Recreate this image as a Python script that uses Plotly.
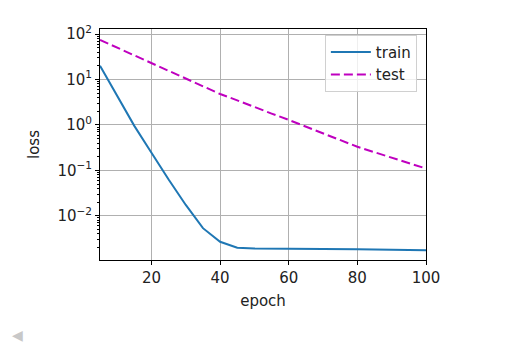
import plotly.graph_objects as go

epochs = [5, 10, 15, 20, 25, 30, 35, 40, 45, 50, 55, 60, 65, 70, 75, 80, 85, 90, 95, 100]
train_loss = [20.0, 4.37, 0.955, 0.245, 0.063, 0.0174, 0.00537, 0.00269, 0.00200, 0.00191,
              0.00191, 0.00188, 0.00191, 0.00188, 0.00186, 0.00184, 0.00182, 0.00180, 0.00178, 0.00176]
test_loss = [74.1, 50.1, 33.9, 22.9, 15.5, 10.5, 7.08, 4.79, 3.47, 2.45,
             1.78, 1.29, 0.912, 0.646, 0.468, 0.331, 0.251, 0.191, 0.145, 0.110]

x_ticks = [20, 40, 60, 80, 100]
y_ticks = [1e-2, 1e-1, 1e0, 1e1, 1e2]
y_ticktext = ["10<sup>\u22122</sup>", "10<sup>\u22121</sup>", "10<sup>0</sup>", "10<sup>1</sup>", "10<sup>2</sup>"]
y_minor = [m * 10 ** k for k in range(-3, 3) for m in range(2, 10)]

FONT = "DejaVu Sans"
FS = 15

fig = go.Figure()
fig.add_trace(go.Scatter(x=epochs, y=train_loss, mode="lines", name="train",
                         line=dict(color="#1f77b4", width=2)))
fig.add_trace(go.Scatter(x=epochs, y=test_loss, mode="lines", name="test",
                         line=dict(color="#bf00bf", width=2, dash="9px,4px")))

axis_common = dict(showline=True, linecolor="black", linewidth=1, mirror=True,
                   ticks="outside", ticklen=4, tickcolor="black", tickwidth=1,
                   showgrid=True, gridcolor="#b0b0b0", gridwidth=1, zeroline=False,
                   tickfont=dict(family=FONT, size=FS, color="#222"),
                   title_font=dict(family=FONT, size=FS, color="#222"))

fig.update_layout(
    width=514, height=352,
    margin=dict(l=100, r=88, t=29, b=92),
    paper_bgcolor="white", plot_bgcolor="white",
    font=dict(family=FONT, size=FS, color="#222"),
    xaxis=dict(range=[5, 100], tickvals=x_ticks, title=dict(text="epoch", standoff=9), **axis_common),
    yaxis=dict(type="log", range=[-2.97, 2.11], tickvals=y_ticks, ticktext=y_ticktext,
               title=dict(text="loss", standoff=14),
               minor=dict(tickvals=y_minor, ticks="outside", ticklen=2, tickcolor="black", showgrid=False),
               **axis_common),
    legend=dict(x=0.972, y=0.975, xanchor="right", yanchor="top", itemwidth=40,
                bgcolor="rgba(255,255,255,0.8)", bordercolor="#d0d0d0", borderwidth=1,
                font=dict(family=FONT, size=FS, color="#222"), tracegroupgap=2),
    showlegend=True,
)
fig.add_annotation(text="\u25c0", xref="paper", yref="paper", x=-0.277, y=-0.37,
                   showarrow=False, font=dict(size=14, color="#c8c8c8"))

fig.write_html("out.html")
